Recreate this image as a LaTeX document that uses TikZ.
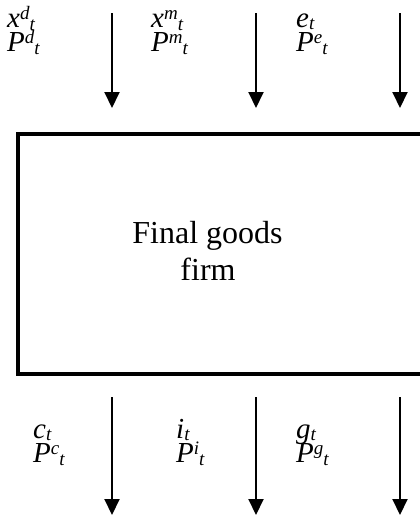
\documentclass[tikz,border=0pt]{standalone}
\usepackage{fontspec}
\setmainfont{Liberation Serif}
\usetikzlibrary{arrows.meta}
\newcommand\supsub[3]{#1\raisebox{0.25em}{\fontsize{19}{19}\selectfont #2}\raisebox{-0.12em}{\fontsize{19}{19}\selectfont #3}}
\newcommand\subonly[2]{#1\raisebox{-0.1em}{\fontsize{19}{19}\selectfont #2}}
\newcommand\twoline[2]{\vtop{\baselineskip=24pt\lineskiplimit=-100pt\lineskip=0pt\hbox{#1}\hbox{#2}}}
\begin{document}
\begin{tikzpicture}[x=1pt,y=-1pt,
  lbl/.style={anchor=base west, inner sep=0pt, font=\fontsize{29}{29}\selectfont\itshape},
  arr/.style={line width=2pt, -{Triangle[length=16pt,width=15pt]}},
  firmbox/.style={draw, line width=4pt, minimum width=424pt, minimum height=240pt, inner sep=0pt, anchor=north west},
  firmtxt/.style={anchor=base, inner sep=0pt, font=\fontsize{32}{37}\selectfont}]
\useasboundingbox (0,0) rectangle (420,517);
\begin{scope}
\clip (0,0) rectangle (420,517);
\node[firmbox] (firm) at (16,132) {};
\end{scope}
\node[firmtxt] (t1) at (207.5,243) {Final goods};
\node[firmtxt] (t2) at (208,280) {firm};
% top labels
\node[lbl] (in1) at (7,27) {\twoline{\supsub{x}{d}{t}}{\supsub{P}{d}{t}}};
\node[lbl] (in2) at (151,27) {\twoline{\supsub{x}{m}{t}}{\supsub{P}{m}{t}}};
\node[lbl] (in3) at (296,27) {\twoline{\subonly{e}{t}}{\supsub{P}{e}{t}}};
% bottom labels
\node[lbl] (out1) at (33,438) {\twoline{\subonly{c}{t}}{\supsub{P}{c}{t}}};
\node[lbl] (out2) at (176,438) {\twoline{\subonly{i}{t}}{\supsub{P}{i}{t}}};
\node[lbl] (out3) at (296,438) {\twoline{\subonly{g}{t}}{\supsub{P}{g}{t}}};
% arrows
\coordinate (a1s) at (112,13); \coordinate (a1e) at (112,108);
\coordinate (a2s) at (256,13); \coordinate (a2e) at (256,108);
\coordinate (a3s) at (400,13); \coordinate (a3e) at (400,108);
\coordinate (b1s) at (112,397); \coordinate (b1e) at (112,515);
\coordinate (b2s) at (256,397); \coordinate (b2e) at (256,515);
\coordinate (b3s) at (400,397); \coordinate (b3e) at (400,515);
\draw[arr] (a1s) -- (a1e);
\draw[arr] (a2s) -- (a2e);
\draw[arr] (a3s) -- (a3e);
\draw[arr] (b1s) -- (b1e);
\draw[arr] (b2s) -- (b2e);
\draw[arr] (b3s) -- (b3e);
\end{tikzpicture}
\end{document}
